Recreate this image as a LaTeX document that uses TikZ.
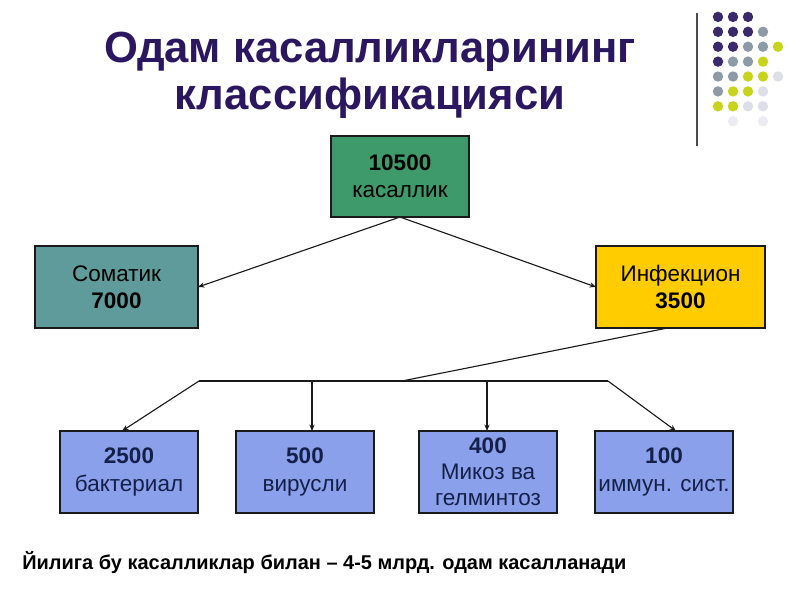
\documentclass[tikz,border=0pt]{standalone}
\usepackage{fontspec}
\setmainfont{Liberation Sans}
\usepackage{xcolor}
\definecolor{cTitle}{HTML}{2B1760}
\definecolor{cLine}{HTML}{1A1A1A}
\definecolor{cRoot}{HTML}{3E9A6A}
\definecolor{cSom}{HTML}{5F9B9A}
\definecolor{cInf}{HTML}{FFCC00}
\definecolor{cSub}{HTML}{8BA0EA}
\definecolor{cSubText}{HTML}{14204A}
\definecolor{cDotA}{HTML}{3B2A6B}
\definecolor{cDotB}{HTML}{8C9BA6}
\definecolor{cDotC}{HTML}{C8D41C}
\definecolor{cDotD}{HTML}{DEDEE8}
\usepackage{tikz}
\usetikzlibrary{positioning,arrows.meta}
\tikzset{
  node-box/.style={draw=cLine,line width=0.8pt,inner sep=0pt,outer sep=0pt,
    align=center,font=\fontsize{16}{19.5}\selectfont},
  node-root/.style={fill=cRoot,minimum width=3.45cm,minimum height=2.025cm},
  node-som/.style={fill=cSom,minimum width=4.075cm,minimum height=2.05cm},
  node-inf/.style={fill=cInf,minimum width=4.225cm,minimum height=2.05cm},
  node-sub/.style={fill=cSub,text=cSubText,minimum width=3.45cm,minimum height=2.05cm},
  arrow/.style={-{Stealth[length=1.6mm,width=1.3mm]},line width=0.8pt,draw=cLine},
  link/.style={line width=0.8pt,draw=cLine},
}

\begin{document}
\begin{tikzpicture}[x=0.025cm,y=-0.025cm]
  \useasboundingbox[fill=white] (0,0) rectangle (800,600);
  % title and corner decoration
  \node[text=cTitle,align=center,font=\fontsize{31}{33.5}\selectfont\bfseries]
    (title) at (370,75) {Одам касалликларининг\\классификацияси};
  \draw[line width=1pt,draw=black!70] (697,13) coordinate (bar-top) -- (697,146) coordinate (bar-bot);
  \foreach \cx/\cy/\cc in {1/1/cDotA,2/1/cDotA,3/1/cDotA,
      1/2/cDotA,2/2/cDotA,3/2/cDotA,4/2/cDotB,
      1/3/cDotA,2/3/cDotA,3/3/cDotB,4/3/cDotB,5/3/cDotC,
      1/4/cDotA,2/4/cDotB,3/4/cDotB,4/4/cDotC,
      1/5/cDotB,2/5/cDotB,3/5/cDotC,4/5/cDotC,5/5/cDotD,
      1/6/cDotB,2/6/cDotC,3/6/cDotC,4/6/cDotD,
      1/7/cDotC,2/7/cDotC,3/7/cDotD,4/7/cDotD,
      2/8/cDotD!60,4/8/cDotD!60}
    \fill[\cc] ({703+15*\cx},{2+14.9*\cy}) circle (0.13cm);
  % boxes
  \node[node-box,node-root] (root) at (400,176.5) {\textbf{10500}\\касаллик};
  \node[node-box,node-som] (som) at (116.5,287) {Соматик\\\textbf{7000}};
  \node[node-box,node-inf] (inf) at (680.5,287) {Инфекцион\\\textbf{3500}};
  \node[node-box,node-sub] (bac) at (129,472) {\textbf{2500}\\бактериал};
  \node[node-box,node-sub] (vir) at (305,472) {\textbf{500}\\вирусли};
  \node[node-box,node-sub,font=\fontsize{16}{18.5}\selectfont] (mik) at (488,472) {\textbf{400}\\Микоз ва\\гелминтоз};
  \node[node-box,node-sub] (imm) at (664,472) {\textbf{100}\\иммун. сист.};
  % connectors
  \draw[arrow] (root.south) -- (som.east);
  \draw[arrow] (root.south) -- (inf.west);
  \coordinate (jn) at (402,381);
  \coordinate (jl) at (199,381);
  \coordinate (jr) at (608,381);
  \coordinate (jv) at (312,381);
  \coordinate (jm) at (487,381);
  \draw[link] ([xshift=-0.33cm]inf.south) -- (jn);
  \draw[link] (jl) -- (jr);
  \draw[arrow] (jl) -- ([xshift=-0.175cm]bac.north);
  \draw[arrow] (jv) -- (jv |- vir.north);
  \draw[arrow] (jm) -- (jm |- mik.north);
  \draw[arrow] (jr) -- ([xshift=0.3cm]imm.north);
  % footnote
  \node[anchor=west,inner sep=0pt,font=\fontsize{14.2}{16}\selectfont\bfseries]
    (note) at (22,563) {Йилига бу касалликлар билан – 4-5 млрд. одам касалланади};
\end{tikzpicture}
\end{document}
